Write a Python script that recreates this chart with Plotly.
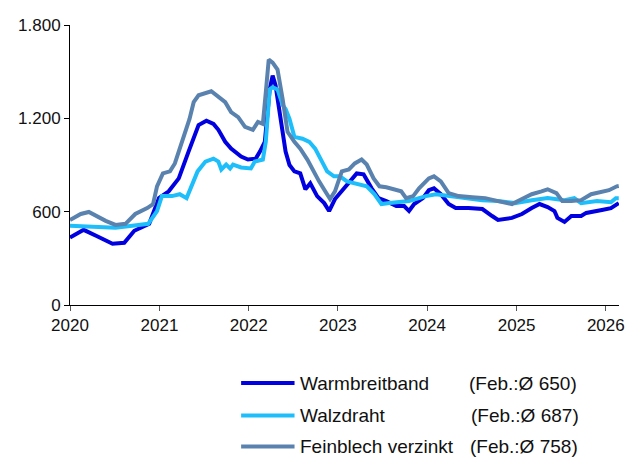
import plotly.graph_objects as go

# ---- data (EUR/t) ----
wb_dates = ["2020-01-01", "2020-02-26", "2020-04-23", "2020-06-23", "2020-08-10", "2020-09-20",
            "2020-11-20", "2020-12-30", "2021-02-08", "2021-03-21", "2021-04-30", "2021-06-10",
            "2021-07-12", "2021-08-10", "2021-08-30", "2021-09-27", "2021-10-21", "2021-12-01",
            "2021-12-29", "2022-01-30", "2022-02-16", "2022-03-08", "2022-03-28", "2022-04-09",
            "2022-04-21", "2022-05-12", "2022-06-01", "2022-06-17", "2022-07-07", "2022-07-31",
            "2022-08-21", "2022-09-10", "2022-10-08", "2022-11-06", "2022-11-26", "2022-12-20",
            "2023-01-25", "2023-02-19", "2023-03-19", "2023-04-16", "2023-05-19", "2023-06-16",
            "2023-07-18", "2023-08-28", "2023-09-29", "2023-10-19", "2023-11-09", "2023-12-15",
            "2024-01-08", "2024-01-29", "2024-02-26", "2024-03-29", "2024-04-27", "2024-06-18",
            "2024-08-14", "2024-09-23", "2024-10-17", "2024-12-13", "2025-01-23", "2025-03-04",
            "2025-04-05", "2025-05-08", "2025-06-05", "2025-06-17", "2025-07-16", "2025-08-13",
            "2025-09-22", "2025-10-13", "2025-11-14", "2025-12-16", "2026-01-22", "2026-02-23"]
wb_values = [434, 483, 440, 394, 400, 477,
             522, 687, 731, 814, 986, 1157,
             1185, 1164, 1126, 1049, 1005, 954,
             935, 941, 986, 1049, 1386, 1475,
             1412, 1196, 986, 900, 859, 846,
             744, 782, 700, 655, 604, 681,
             750, 795, 846, 840, 750, 687,
             668, 636, 636, 604, 649, 687,
             738, 750, 712, 649, 623, 623,
             617, 572, 547, 560, 585, 623,
             649, 630, 604, 560, 534, 572,
             572, 592, 604, 611, 623, 655]

wd_dates = ["2020-01-01", "2020-07-05", "2020-09-12", "2020-11-16", "2020-12-22", "2021-01-11",
            "2021-02-21", "2021-03-25", "2021-04-22", "2021-05-17", "2021-06-06", "2021-07-08",
            "2021-08-10", "2021-08-30", "2021-09-11", "2021-10-01", "2021-10-17", "2021-10-29",
            "2021-12-01", "2022-01-10", "2022-01-26", "2022-02-28", "2022-03-12", "2022-03-28",
            "2022-04-09", "2022-04-29", "2022-05-20", "2022-06-01", "2022-06-17", "2022-07-07",
            "2022-08-09", "2022-09-06", "2022-09-30", "2022-10-28", "2022-11-18", "2022-12-16",
            "2023-01-09", "2023-02-07", "2023-03-19", "2023-04-29", "2023-05-31", "2023-06-28",
            "2023-07-31", "2023-09-09", "2023-10-19", "2023-11-29", "2023-12-27", "2024-02-06",
            "2024-03-29", "2024-06-06", "2024-08-14", "2024-10-17", "2024-12-25", "2025-03-04",
            "2025-05-08", "2025-07-16", "2025-08-25", "2025-09-22", "2025-11-26", "2026-01-22",
            "2026-02-11", "2026-02-23"]
wd_values = [509, 496, 509, 522, 604, 700,
             700, 712, 687, 776, 859, 922,
             941, 922, 871, 903, 878, 903,
             884, 878, 922, 935, 1049, 1386,
             1399, 1386, 1285, 1260, 1196, 1081,
             1069, 1049, 1005, 922, 859, 827,
             827, 795, 782, 763, 712, 649,
             655, 661, 668, 687, 700, 712,
             700, 687, 674, 668, 655, 674,
             687, 674, 687, 655, 668, 661,
             687, 687]

fb_dates = ["2020-01-01", "2020-02-14", "2020-03-18", "2020-04-15", "2020-05-26", "2020-07-05",
            "2020-08-15", "2020-09-24", "2020-11-12", "2020-12-06", "2020-12-22", "2021-01-15",
            "2021-02-13", "2021-03-05", "2021-03-25", "2021-04-14", "2021-05-04", "2021-05-21",
            "2021-06-10", "2021-08-01", "2021-08-30", "2021-09-27", "2021-10-21", "2021-11-19",
            "2021-12-17", "2022-01-18", "2022-02-08", "2022-02-28", "2022-03-12", "2022-03-24",
            "2022-04-09", "2022-04-29", "2022-05-20", "2022-06-09", "2022-07-07", "2022-07-31",
            "2022-08-29", "2022-09-18", "2022-10-16", "2022-11-10", "2022-11-30", "2022-12-20",
            "2023-01-17", "2023-02-15", "2023-03-11", "2023-04-08", "2023-04-29", "2023-05-27",
            "2023-06-20", "2023-07-18", "2023-08-16", "2023-09-17", "2023-10-07", "2023-11-05",
            "2023-11-29", "2023-12-19", "2024-01-08", "2024-01-29", "2024-02-26", "2024-03-29",
            "2024-05-09", "2024-07-04", "2024-08-26", "2024-10-17", "2024-12-13", "2025-01-23",
            "2025-03-04", "2025-04-13", "2025-05-08", "2025-06-13", "2025-07-07", "2025-08-13",
            "2025-09-22", "2025-11-02", "2025-12-12", "2026-01-14", "2026-02-15", "2026-02-23"]
fb_values = [547, 585, 598, 572, 541, 515,
             522, 585, 623, 649, 763, 846,
             859, 910, 1005, 1094, 1196, 1304,
             1348, 1374, 1336, 1304, 1240, 1208,
             1145, 1126, 1177, 1164, 1367, 1577,
             1558, 1514, 1323, 1113, 1049, 1005,
             935, 871, 795, 731, 681, 731,
             859, 871, 910, 935, 903, 814,
             763, 757, 744, 731, 687, 700,
             750, 782, 814, 827, 795, 719,
             700, 693, 687, 668, 649, 681,
             712, 731, 744, 719, 668, 668,
             674, 712, 725, 738, 763, 765]

series_names = ["Warmbreitband", "Walzdraht", "Feinblech verzinkt"]
feb_avg = [650, 687, 758]
y_ticks = [0, 600, 1200, 1800]
x_ticks = ["2020-01-01", "2021-01-01", "2022-01-01", "2023-01-01",
           "2024-01-01", "2025-01-01", "2026-01-01"]

colors = ["#0000E0", "#1EBEFA", "#5A82AF"]
FONT = "Liberation Sans, Arial, sans-serif"
TXT = "#111111"

fig = go.Figure()
for i, (d, v) in enumerate([(wb_dates, wb_values), (wd_dates, wd_values), (fb_dates, fb_values)]):
    fig.add_trace(go.Scatter(
        x=d, y=v, mode="lines", name=series_names[i],
        line=dict(color=colors[i], width=4),
        showlegend=False,
    ))

# legend drawn below the plot: line sample, name, Feb. average
row_y = [-0.279, -0.395, -0.505]
feb_x = [0.7225, 0.727, 0.7255]
for i in range(3):
    fig.add_shape(type="line", xref="paper", yref="paper",
                  x0=0.3117, x1=0.4090, y0=row_y[i], y1=row_y[i],
                  line=dict(color=colors[i], width=4))
    fig.add_annotation(
        xref="paper", yref="paper", x=0.4144, y=row_y[i],
        xanchor="left", yanchor="middle", showarrow=False,
        text=series_names[i],
        font=dict(family=FONT, size=19, color=TXT),
    )
    fig.add_annotation(
        xref="paper", yref="paper", x=feb_x[i], y=row_y[i],
        xanchor="left", yanchor="middle", showarrow=False,
        text=f"(Feb.:Ø {feb_avg[i]})",
        font=dict(family=FONT, size=19, color=TXT),
    )

# page body has an 8px margin, so the figure is 8px smaller than the window
fig.update_layout(
    width=625, height=450,
    margin=dict(l=62, r=8, t=14, b=153),
    paper_bgcolor="white", plot_bgcolor="white",
    separators=",.",
    font=dict(family=FONT, size=17, color=TXT),
    showlegend=False,
)
fig.update_xaxes(
    type="date", range=["2020-01-01", "2026-02-24"],
    tickvals=x_ticks, tickformat="%Y", tickangle=0,
    showgrid=False, zeroline=False,
    showline=True, linecolor="#000000", linewidth=1,
    ticks="outside", ticklen=5, tickcolor="#555555",
    tickfont=dict(family=FONT, size=17, color=TXT),
)
fig.update_yaxes(
    range=[0, 1800], tickvals=y_ticks, tickformat=",d",
    showgrid=False, zeroline=False,
    showline=True, linecolor="#000000", linewidth=1,
    ticks="outside", ticklen=5, tickcolor="#000000",
    tickfont=dict(family=FONT, size=17, color=TXT),
)

fig.write_html("out.html")
